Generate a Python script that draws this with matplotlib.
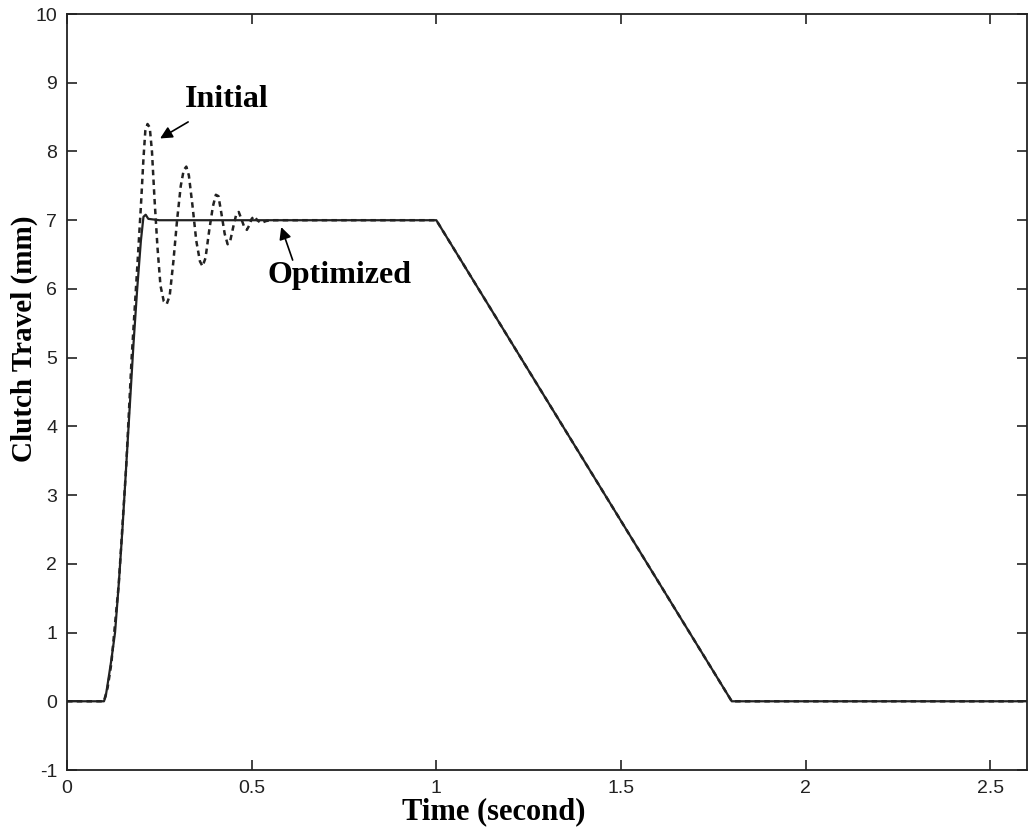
import matplotlib.pyplot as plt

plt.rcParams["axes.unicode_minus"] = False

# optimized response (solid)
t_opt = [0.0, 0.10, 0.105, 0.11, 0.12, 0.13, 0.14, 0.15, 0.16, 0.17, 0.18, 0.19, 0.20,
         0.207, 0.213, 0.22, 0.25, 1.0, 1.8, 2.6]
y_opt = [0.0, 0.0, 0.08, 0.25, 0.6, 1.0, 1.7, 2.5, 3.4, 4.3, 5.2, 6.0, 6.7,
         7.05, 7.08, 7.02, 7.0, 7.0, 0.0, 0.0]

# initial response (dashed)
t_init = [0.0, 0.10, 0.11, 0.12, 0.14, 0.16, 0.175, 0.19, 0.20, 0.207, 0.212, 0.218,
          0.224, 0.23, 0.237, 0.245, 0.253, 0.262, 0.27, 0.278, 0.288, 0.298, 0.308,
          0.316, 0.323, 0.33, 0.34, 0.35, 0.36, 0.367, 0.375, 0.385, 0.395, 0.403,
          0.41, 0.418, 0.427, 0.435, 0.442, 0.45, 0.458, 0.465, 0.472, 0.48, 0.487,
          0.494, 0.50, 0.507, 0.515, 0.525, 0.54, 0.56, 1.0, 1.8, 2.6]
y_init = [0.0, 0.0, 0.2, 0.55, 1.7, 3.4, 5.0, 6.3, 7.2, 7.9, 8.3, 8.4,
          8.35, 8.0, 7.3, 6.6, 6.05, 5.82, 5.78, 5.9, 6.4, 7.0, 7.5,
          7.73, 7.78, 7.65, 7.2, 6.7, 6.4, 6.33, 6.45, 6.85, 7.2, 7.37,
          7.35, 7.1, 6.8, 6.65, 6.7, 6.9, 7.08, 7.12, 7.02, 6.9, 6.86,
          6.93, 7.02, 7.06, 7.0, 6.96, 6.99, 7.0, 7.0, 0.0, 0.0]

x_ticks = [0, 0.5, 1, 1.5, 2, 2.5]
x_tick_labels = ["0", "0.5", "1", "1.5", "2", "2.5"]
y_ticks = list(range(-1, 11))

fig = plt.figure(figsize=(10.28, 8.31), dpi=100)
ax = fig.add_axes([0.0652, 0.0734, 0.934, 0.9097])

ax.plot(t_init, y_init, color="#222222", lw=1.8, linestyle=(0, (2.2, 1.7)))
ax.plot(t_opt, y_opt, color="#222222", lw=1.6)

ax.set_xlim(0, 2.6)
ax.set_ylim(-1, 10)
ax.set_xticks(x_ticks)
ax.set_xticklabels(x_tick_labels)
ax.set_yticks(y_ticks)
ax.tick_params(direction="in", length=7, width=1.2, top=True, right=True,
               labelsize=14, pad=7, colors="#222222")
for lab in ax.get_xticklabels() + ax.get_yticklabels():
    lab.set_family("Liberation Sans")
for s in ax.spines.values():
    s.set_linewidth(1.3)
    s.set_color("#222222")

ax.set_xlabel("Time (second)", fontsize=22, fontweight="bold", family="Liberation Serif")
ax.xaxis.set_label_coords(0.444, -0.036)
ax.set_ylabel("Clutch Travel (mm)", fontsize=21, fontweight="bold", family="Liberation Serif")
ax.yaxis.set_label_coords(-0.030, 0.571)

arrow = dict(arrowstyle="-|>", color="black", lw=1.2, mutation_scale=18, shrinkA=0, shrinkB=0)
ax.text(0.432, 8.75, "Initial", fontsize=23, fontweight="bold", family="Liberation Serif",
        ha="center", va="center")
ax.annotate("", xy=(0.252, 8.19), xytext=(0.328, 8.43), arrowprops=arrow)
ax.text(0.739, 6.19, "Optimized", fontsize=23, fontweight="bold", family="Liberation Serif",
        ha="center", va="center")
ax.annotate("", xy=(0.58, 6.9), xytext=(0.611, 6.42), arrowprops=arrow)

fig.savefig("out.png", dpi=100)
